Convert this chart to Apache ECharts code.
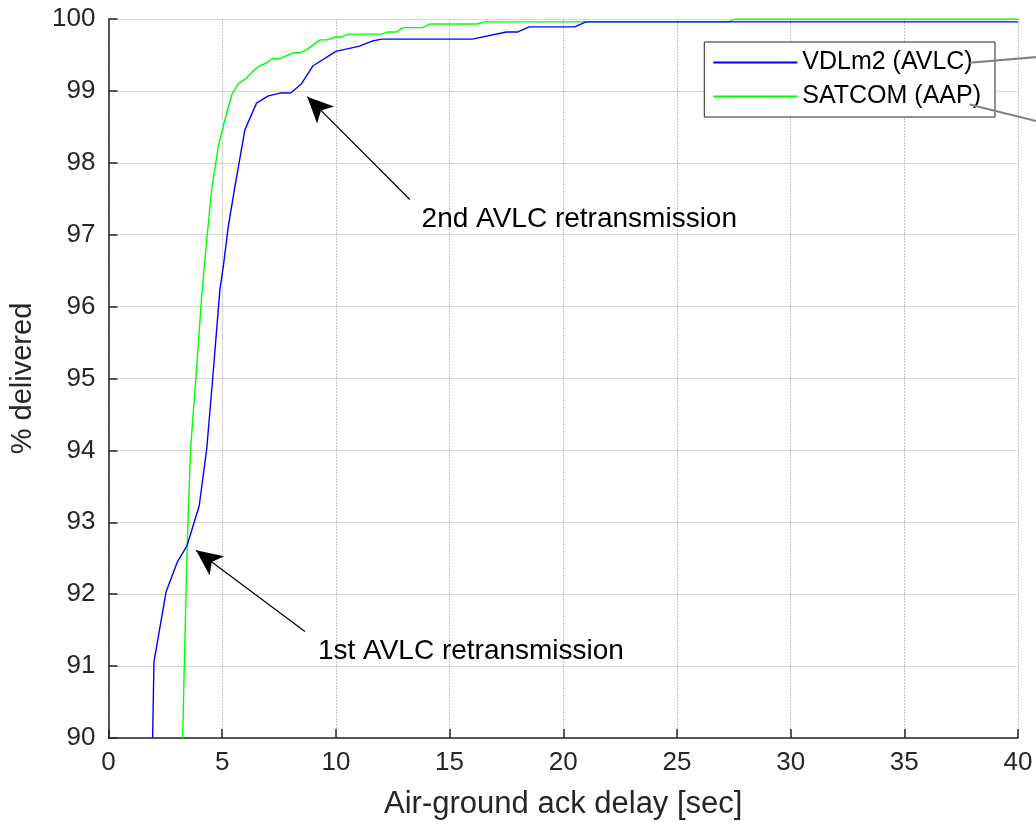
<!DOCTYPE html>
<html>
<head>
<meta charset="utf-8">
<script src="https://cdn.jsdelivr.net/npm/echarts@6/dist/echarts.min.js"></script>
<style>
html,body{margin:0;padding:0;background:#fff;}
#chart{width:1036px;height:825px;}
</style>
</head>
<body>
<div id="chart"></div>
<script>
// ---- data ----
const seriesNames = ['VDLm2 (AVLC)', 'SATCOM (AAP)'];
const vdlX = [1.94, 2.0, 2.53, 3.03, 3.46, 3.99, 4.32, 4.58, 4.9, 5.05, 5.27, 5.56, 6.0, 6.51, 7.03, 7.54, 8.01, 8.49, 9.0, 10.0, 11.0, 11.57, 12.0, 16.0, 17.5, 18.0, 18.5, 20.5, 21.0, 40];
const vdlY = [90.0, 91.06, 92.03, 92.45, 92.68, 93.23, 94.02, 94.99, 96.24, 96.56, 97.12, 97.67, 98.46, 98.83, 98.93, 98.97, 98.97, 99.10, 99.35, 99.55, 99.62, 99.69, 99.72, 99.72, 99.82, 99.82, 99.89, 99.89, 99.96, 99.96];
const satX = [3.26, 3.46, 3.61, 3.85, 4.1, 4.32, 4.54, 4.83, 5.08, 5.42, 5.71, 6.0, 6.44, 6.66, 6.95, 7.22, 7.54, 8.12, 8.42, 8.71, 9.3, 9.59, 10.0, 10.25, 10.54, 12.0, 12.3, 12.67, 12.96, 13.8, 14.13, 16.2, 16.55, 27.3, 27.55, 40];
const satY = [90.0, 92.68, 94.02, 95.04, 96.15, 96.93, 97.63, 98.23, 98.55, 98.95, 99.10, 99.16, 99.30, 99.35, 99.39, 99.45, 99.45, 99.53, 99.53, 99.57, 99.71, 99.71, 99.75, 99.75, 99.79, 99.79, 99.82, 99.82, 99.88, 99.88, 99.93, 99.93, 99.96, 99.96, 100, 100];
const xTicks = [0, 5, 10, 15, 20, 25, 30, 35, 40];
const yTicks = [90, 91, 92, 93, 94, 95, 96, 97, 98, 99, 100];
const annotations = [
  {text: '1st AVLC retransmission', tail: [8.64, 91.48], head: [3.85, 92.61], label: [9.21, 91.21]},
  {text: '2nd AVLC retransmission', tail: [13.25, 97.49], head: [8.74, 98.92], label: [13.77, 97.21]}
];
const xName = 'Air-ground ack delay [sec]';
const yName = '% delivered';

const FONT = '"Liberation Sans", Arial, sans-serif';
const AX = '#262626';
const BLUE = '#0000ff';
const GREEN = '#00ff00';
const zip = (xs, ys) => xs.map((x, i) => [x, ys[i]]);

const chart = echarts.init(document.getElementById('chart'), null, {renderer: 'canvas'});
const option = {
  animation: false,
  backgroundColor: '#fff',
  textStyle: {fontFamily: FONT},
  grid: {left: 108.5, right: 18, top: 19, bottom: 85, containLabel: false},
  legend: {
    right: 41, top: 42, orient: 'vertical',
    itemWidth: 84, itemHeight: 25, itemGap: 9,
    padding: [8, 14, 8, 8],
    borderColor: AX, borderWidth: 1, backgroundColor: '#fff',
    itemStyle: {opacity: 0, borderWidth: 0},
    textStyle: {fontSize: 25, color: '#000', fontFamily: FONT},
    data: seriesNames
  },
  xAxis: {
    type: 'value', min: 0, max: 40, interval: 5,
    name: xName, nameLocation: 'middle', nameGap: 51,
    nameTextStyle: {fontSize: 31, color: AX, fontFamily: FONT},
    axisLine: {show: true, onZero: false, lineStyle: {color: AX, width: 1.5}},
    axisTick: {show: true, inside: true, length: 9, lineStyle: {color: AX, width: 1.5}},
    axisLabel: {fontSize: 26, color: AX, margin: 12, fontFamily: FONT,
      formatter: v => xTicks.includes(v) ? String(v) : ''},
    splitLine: {show: true, lineStyle: {color: '#c4c4c4', type: [2, 1], width: 1}}
  },
  yAxis: {
    type: 'value', min: 90, max: 100, interval: 1,
    name: yName, nameLocation: 'middle', nameGap: 71, nameRotate: 90,
    nameTextStyle: {fontSize: 29, color: AX, fontFamily: FONT},
    axisLine: {show: true, onZero: false, lineStyle: {color: AX, width: 1.5}},
    axisTick: {show: true, inside: true, length: 9, lineStyle: {color: AX, width: 1.5}},
    axisLabel: {fontSize: 26, color: AX, margin: 13, fontFamily: FONT,
      formatter: v => yTicks.includes(v) ? String(v) : ''},
    splitLine: {show: true, lineStyle: {color: '#c4c4c4', type: [2, 1], width: 1}}
  },
  series: [
    {
      name: seriesNames[0], type: 'line', data: zip(vdlX, vdlY),
      showSymbol: false, symbol: 'none', clip: true,
      lineStyle: {color: BLUE, width: 1.4}, itemStyle: {color: BLUE},
      z: 3,
      markLine: {
        silent: true, animation: false,
        symbol: ['none', 'arrow'], symbolSize: [18, 26],
        label: {show: false},
        lineStyle: {color: '#000', width: 1.2, type: 'solid'},
        data: annotations.map(a => [{coord: a.tail}, {coord: a.head}])
      }
    },
    {
      name: seriesNames[1], type: 'line', data: zip(satX, satY),
      showSymbol: false, symbol: 'none', clip: true,
      lineStyle: {color: GREEN, width: 1.4}, itemStyle: {color: GREEN},
      z: 2
    }
  ]
};
chart.setOption(option);

// annotation texts and legend leader lines
const g = [];
annotations.forEach(a => {
  const p = chart.convertToPixel({gridIndex: 0}, a.label);
  g.push({type: 'text', x: p[0], y: p[1], z: 100,
    style: {text: a.text, font: '28px ' + FONT, fill: '#000', textAlign: 'left', textVerticalAlign: 'middle'}});
});
const leaders = [[[37.87, 99.39], [40.8, 99.47]], [[37.87, 98.81], [40.8, 98.58]]];
leaders.forEach(l => {
  const p1 = chart.convertToPixel({gridIndex: 0}, l[0]);
  const p2 = chart.convertToPixel({gridIndex: 0}, l[1]);
  g.push({type: 'line', z: 100, shape: {x1: p1[0], y1: p1[1], x2: p2[0], y2: p2[1]},
    style: {stroke: '#808080', lineWidth: 2}});
});
chart.setOption({graphic: g});
</script>
</body>
</html>
